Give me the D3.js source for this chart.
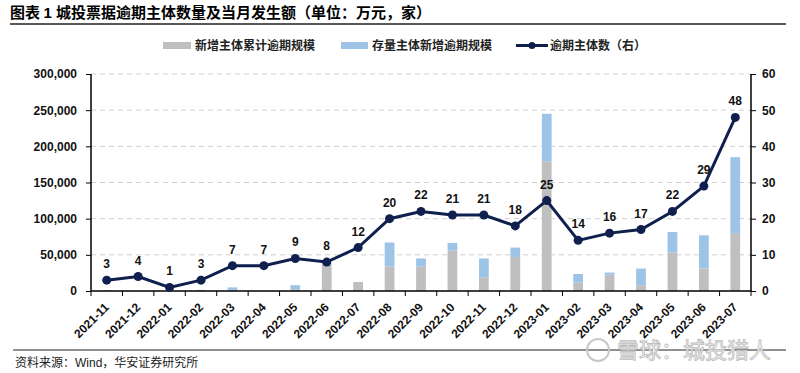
<!DOCTYPE html>
<html>
  <head>
    <meta charset="utf-8" />
    <title>城投票据逾期主体数量及当月发生额</title>
    <script src="https://d3js.org/d3.v7.min.js"></script>
    <style>
      body { margin: 0; background: #fff; }
      text { font-family: "Liberation Sans", Arial, sans-serif; }
      .cn { font-family: "Noto Sans CJK SC", sans-serif; }
    </style>
  </head>
  <body>
    <svg id="chart" width="800" height="373"></svg>

    <script>
        var months = ["2021-11","2021-12","2022-01","2022-02","2022-03","2022-04","2022-05",
                      "2022-06","2022-07","2022-08","2022-09","2022-10","2022-11","2022-12",
                      "2023-01","2023-02","2023-03","2023-04","2023-05","2023-06","2023-07"];

        // 新增主体累计逾期规模 (万元)
        var newEntity = [1000, 0, 0, 1500, 1500, 0, 2500, 37000, 12500, 34000, 34000, 56000,
                         19000, 47000, 179000, 12000, 22500, 8000, 53000, 31000, 80000];

        // 存量主体新增逾期规模 (万元)
        var stockEntity = [0, 0, 0, 0, 3500, 0, 5500, 2000, 0, 33000, 11000, 10500,
                           26000, 13000, 66000, 11500, 3000, 23000, 28500, 46000, 105000];

        // 逾期主体数 (家, 右轴)
        var overdueCount = [3, 4, 1, 3, 7, 7, 9, 8, 12, 20, 22, 21, 21, 18, 25, 14, 16, 17, 22, 29, 48];

        var leftTicks = [0, 50000, 100000, 150000, 200000, 250000, 300000];
        var rightTicks = [0, 10, 20, 30, 40, 50, 60];

        var grayColor = "#bfbfbf";
        var blueColor = "#9dc3e6";
        var navy = "#0f1f4e";

        var svg = d3.select("#chart");

        // plot box (window.top is reserved, so no "top" here)
        var plotL = 91, plotR = 751, plotT = 74, plotB = 291;

        var x = d3.scaleBand().domain(months).range([plotL, plotR]).padding(0);
        var yL = d3.scaleLinear().domain([0, 300000]).range([plotB, plotT]);
        var yR = d3.scaleLinear().domain([0, 60]).range([plotB, plotT]);
        var barW = x.bandwidth() * 0.31;

        function cx(d) { return x(d) + x.bandwidth() / 2; }

        // title
        var title = svg.append("text")
          .attr("x", 10).attr("y", 18)
          .style("font-size", "15px").style("font-weight", "bold");
        title.append("tspan").attr("class", "cn").text("图表 ");
        title.append("tspan").text("1 ");
        title.append("tspan").attr("class", "cn").text("城投票据逾期主体数量及当月发生额（单位：万元，家）");

        svg.append("line")
          .attr("x1", 10).attr("x2", 786).attr("y1", 24).attr("y2", 24)
          .attr("stroke", "#222").attr("stroke-width", 1.5);

        // gridlines
        svg.append("g").selectAll("line")
          .data(leftTicks.slice(1))
          .enter().append("line")
          .attr("x1", plotL).attr("x2", plotR)
          .attr("y1", function(d){ return yL(d); })
          .attr("y2", function(d){ return yL(d); })
          .attr("stroke", "#d0d0d0")
          .attr("stroke-dasharray", "5,4");

        // stacked bars
        var bars = svg.append("g").selectAll("g")
          .data(months)
          .enter().append("g");

        bars.append("rect")
          .attr("x", function(d){ return cx(d) - barW/2; })
          .attr("width", barW)
          .attr("y", function(d, i){ return yL(newEntity[i]); })
          .attr("height", function(d, i){ return yL(0) - yL(newEntity[i]); })
          .attr("fill", grayColor);

        bars.append("rect")
          .attr("x", function(d){ return cx(d) - barW/2; })
          .attr("width", barW)
          .attr("y", function(d, i){ return yL(newEntity[i] + stockEntity[i]); })
          .attr("height", function(d, i){ return yL(0) - yL(stockEntity[i]); })
          .attr("fill", blueColor);

        // left axis
        var leftAxis = svg.append("g")
          .attr("transform", "translate(" + plotL + ",0)")
          .call(d3.axisLeft(yL).tickValues(leftTicks).tickSize(5).tickFormat(d3.format(",")));
        leftAxis.select(".domain").attr("stroke", "#000").attr("stroke-width", 1.5).attr("d", "M0," + plotB + "V" + plotT);
        leftAxis.selectAll(".tick line").attr("stroke", "#000");
        leftAxis.selectAll(".tick text")
          .attr("x", -14)
          .style("font-size", "12px").style("font-weight", "bold")
          .style("font-family", "'Liberation Sans', Arial, sans-serif").attr("fill", "#111");

        // right axis
        var rightAxis = svg.append("g")
          .attr("transform", "translate(" + plotR + ",0)")
          .call(d3.axisRight(yR).tickValues(rightTicks).tickSize(5));
        rightAxis.select(".domain").attr("stroke", "#000").attr("stroke-width", 1.5).attr("d", "M0," + plotB + "V" + plotT);
        rightAxis.selectAll(".tick line").attr("stroke", "#000");
        rightAxis.selectAll(".tick text")
          .attr("x", 11)
          .style("font-size", "12px").style("font-weight", "bold")
          .style("font-family", "'Liberation Sans', Arial, sans-serif").attr("fill", "#111");

        // x axis: ticks on band boundaries
        svg.append("line")
          .attr("x1", plotL).attr("x2", plotR)
          .attr("y1", plotB).attr("y2", plotB)
          .attr("stroke", "#000").attr("stroke-width", 1.5);

        var bounds = months.map(function(d){ return x(d); }).concat([plotR]);
        svg.append("g").selectAll("line")
          .data(bounds)
          .enter().append("line")
          .attr("x1", function(d){ return d; }).attr("x2", function(d){ return d; })
          .attr("y1", plotB).attr("y2", plotB + 5)
          .attr("stroke", "#000");

        svg.append("g").selectAll("text")
          .data(months)
          .enter().append("text")
          .attr("transform", function(d){
              return "translate(" + cx(d) + "," + (plotB + 14) + ") rotate(-45)";
          })
          .attr("text-anchor", "end")
          .attr("dy", "0.35em")
          .style("font-size", "12px").style("font-weight", "bold")
          .attr("fill", "#111")
          .text(function(d){ return d; });

        // count line
        var line = d3.line()
          .x(function(d, i){ return cx(months[i]); })
          .y(function(d){ return yR(d); });

        svg.append("path")
          .datum(overdueCount)
          .attr("d", line)
          .attr("fill", "none")
          .attr("stroke", navy)
          .attr("stroke-width", 3);

        svg.append("g").selectAll("circle")
          .data(overdueCount)
          .enter().append("circle")
          .attr("cx", function(d, i){ return cx(months[i]); })
          .attr("cy", function(d){ return yR(d); })
          .attr("r", 4.5)
          .attr("fill", navy);

        svg.append("g").selectAll("text")
          .data(overdueCount)
          .enter().append("text")
          .attr("x", function(d, i){ return cx(months[i]); })
          .attr("y", function(d){ return yR(d) - 12; })
          .attr("text-anchor", "middle")
          .style("font-size", "12px").style("font-weight", "bold")
          .attr("fill", "#111")
          .text(function(d){ return d; });

        // legend
        var legend = svg.append("g").style("font-size", "12px").style("font-weight", "bold");
        legend.append("rect").attr("x", 163).attr("y", 42).attr("width", 28).attr("height", 7).attr("fill", grayColor);
        legend.append("text").attr("class", "cn").attr("x", 195).attr("y", 50).attr("fill", "#222").text("新增主体累计逾期规模");
        legend.append("rect").attr("x", 341).attr("y", 42).attr("width", 27).attr("height", 7).attr("fill", blueColor);
        legend.append("text").attr("class", "cn").attr("x", 372).attr("y", 50).attr("fill", "#222").text("存量主体新增逾期规模");
        legend.append("line").attr("x1", 516).attr("x2", 548).attr("y1", 45.5).attr("y2", 45.5)
          .attr("stroke", navy).attr("stroke-width", 3);
        legend.append("circle").attr("cx", 532).attr("cy", 45.5).attr("r", 3.5).attr("fill", navy);
        legend.append("text").attr("class", "cn").attr("x", 550).attr("y", 50).attr("fill", "#222").text("逾期主体数（右）");

        // footer
        svg.append("line")
          .attr("x1", 13).attr("x2", 786).attr("y1", 350).attr("y2", 350)
          .attr("stroke", "#222").attr("stroke-width", 1);

        var foot = svg.append("text").attr("x", 15).attr("y", 367).style("font-size", "12px").attr("fill", "#222");
        foot.append("tspan").attr("class", "cn").text("资料来源：");
        foot.append("tspan").text("Wind");
        foot.append("tspan").attr("class", "cn").text("，华安证券研究所");

        // watermark
        svg.append("circle").attr("cx", 598).attr("cy", 350).attr("r", 11)
          .attr("fill", "none").attr("stroke", "#c8c8c8").attr("stroke-width", 2);
        svg.append("text").attr("class", "cn")
          .attr("x", 617).attr("y", 358)
          .style("font-size", "22px")
          .attr("fill", "#f4f4f4").attr("stroke", "#bdbdbd").attr("stroke-width", 0.8)
          .text("雪球：城投猎人");
    </script>
  </body>
</html>
